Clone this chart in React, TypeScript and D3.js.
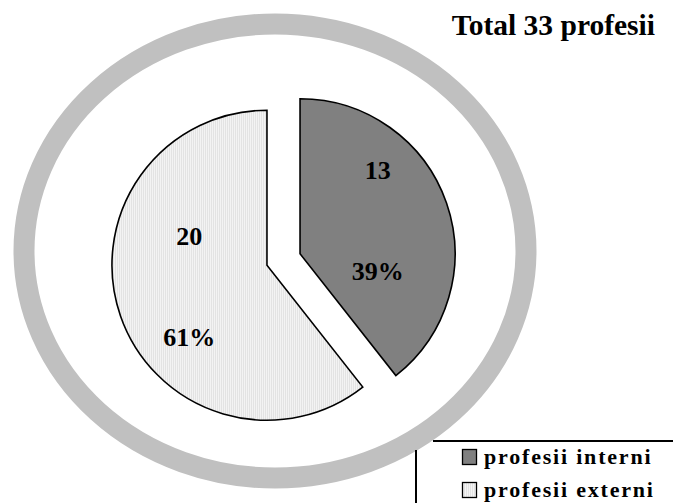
import React from "react";
import * as d3 from "d3";

const categories = ["profesii interni", "profesii externi"];
const values = [13, 20];
const titleText = "Total 33 profesii";
const fills = ["#808080", "url(#stripes)"];

const W = 673;
const H = 503;

export default function App() {
  const total = d3.sum(values);
  const pie = d3.pie<number>().sort(null).startAngle(0).endAngle(2 * Math.PI)(values);
  const r = 155;
  const cx = 283.5;
  const cy = 259.5;
  const explode = 17.5;
  const arc = d3.arc<d3.PieArcDatum<number>>().innerRadius(0).outerRadius(r);
  const labelArc = d3.arc<d3.PieArcDatum<number>>().innerRadius(r * 0.53).outerRadius(r * 0.53);
  const font = "'Liberation Serif', 'Times New Roman', serif";

  return (
    <svg width={W} height={H} style={{ position: "absolute", left: 0, top: 0, background: "#fff" }}>
      <defs>
        <pattern id="stripes" width={2} height={4} patternUnits="userSpaceOnUse">
          <rect width={2} height={4} fill="#f4f4f4" />
          <rect width={1} height={4} fill="#e2e2e2" />
        </pattern>
      </defs>
      <ellipse cx={275} cy={251} rx={251} ry={227} fill="none" stroke="#c0c0c0" strokeWidth={21} />
      {pie.map((d, i) => {
        const mid = (d.startAngle + d.endAngle) / 2;
        const dx = explode * Math.sin(mid);
        const dy = -explode * Math.cos(mid);
        const [lx, ly] = labelArc.centroid(d);
        const pct = Math.round((values[i] / total) * 100) + "%";
        return (
          <g key={i} transform={`translate(${cx + dx},${cy + dy})`}>
            <path d={arc(d) || ""} fill={fills[i]} stroke="#000" strokeWidth={1.6} strokeLinejoin="miter" />
            <text x={lx} y={ly - 56} textAnchor="middle" dominantBaseline="central" fontFamily={font} fontWeight="bold" fontSize={26}>
              {values[i]}
            </text>
            <text x={lx} y={ly + 45} textAnchor="middle" dominantBaseline="central" fontFamily={font} fontWeight="bold" fontSize={26}>
              {pct}
            </text>
          </g>
        );
      })}
      <text x={655} y={35} textAnchor="end" fontFamily={font} fontWeight="bold" fontSize={29.5}>
        {titleText}
      </text>
      <line x1={433} y1={441} x2={673} y2={441} stroke="#000" strokeWidth={2} />
      <line x1={416} y1={450} x2={416} y2={503} stroke="#000" strokeWidth={2} />
      {categories.map((c, i) => (
        <g key={c} transform={`translate(462,${449 + i * 33})`}>
          <rect x={0.5} y={0.5} width={14} height={15} fill={fills[i]} stroke="#000" strokeWidth={1.3} />
          <text x={22} y={15} fontFamily={font} fontWeight="bold" fontSize={22} letterSpacing={1.8}>
            {c}
          </text>
        </g>
      ))}
    </svg>
  );
}
